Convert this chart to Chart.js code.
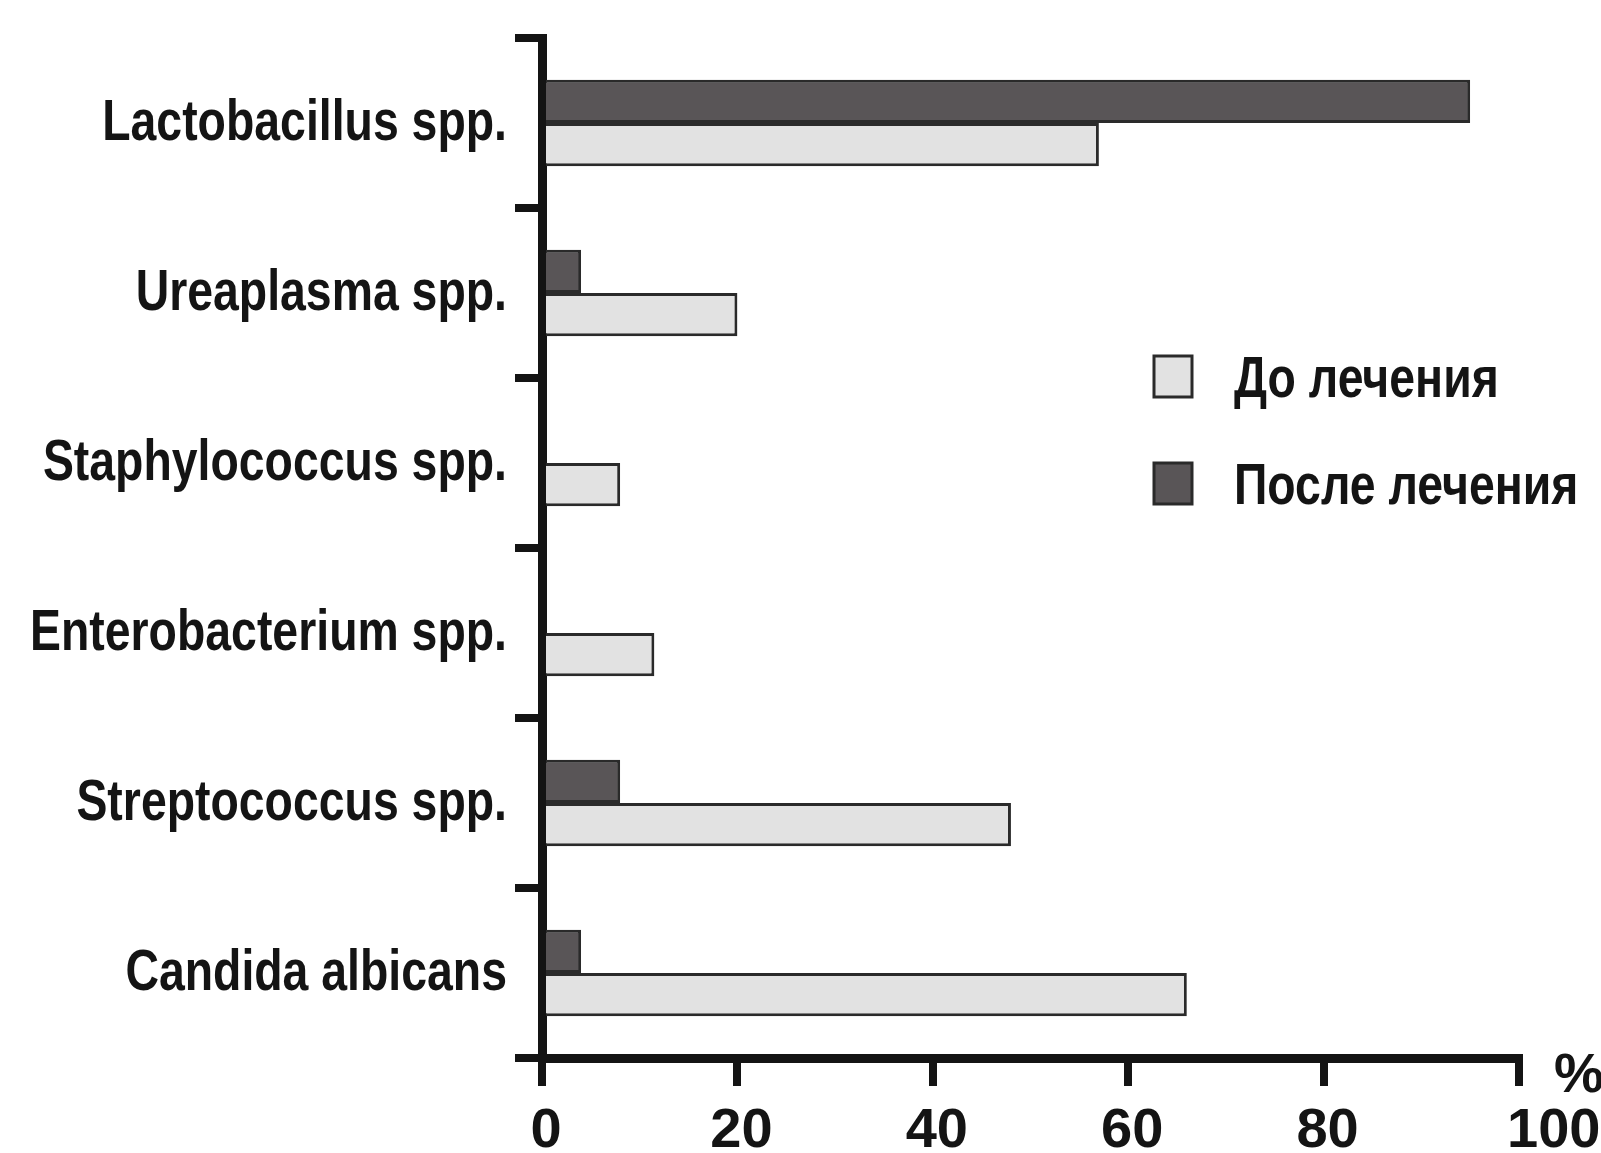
<!DOCTYPE html>
<html>
<head>
<meta charset="utf-8">
<script src="https://cdn.jsdelivr.net/npm/chart.js@4/dist/chart.umd.min.js"></script>
<style>
  html, body { margin: 0; padding: 0; background: #fff; }
  #wrap { width: 1601px; height: 1153px; }
</style>
</head>
<body>
<div id="wrap"><canvas id="microChart" width="1601" height="1153"></canvas></div>
<script>
// Microflora chart

// Categories
const categories = [
  'Lactobacillus spp.',
  'Ureaplasma spp.',
  'Staphylococcus spp.',
  'Enterobacterium spp.',
  'Streptococcus spp.',
  'Candida albicans'
];

// Series values (%)
const afterValues = [95, 4, 0, 0, 8, 4];
const beforeValues = [57, 20, 8, 11.5, 48, 66];

// Tick labels of the x axis
const xTicks = [0, 20, 40, 60, 80, 100];

const fontFamily = "'Liberation Sans', Arial, sans-serif";
const ink = '#141414';
const squeeze = 0.8; // narrow-ish lettering like the original

// draw text squeezed horizontally
function narrowText(c, txt, x, y) {
  c.save();
  c.translate(x, y);
  c.scale(squeeze, 1);
  c.fillText(txt, 0, 0);
  c.restore();
}

// Tick labels, legend and "%" sign drawn on the canvas
const extras = {
  id: 'extras',
  afterDraw(chart) {
    const c = chart.ctx;
    const ys = chart.scales.y;
    const xs = chart.scales.x;
    c.save();
    c.fillStyle = ink;
    c.textBaseline = 'alphabetic';

    // category labels
    c.font = 'bold 58px ' + fontFamily;
    c.textAlign = 'right';
    chart.data.labels.forEach((lab, i) => {
      narrowText(c, lab, ys.right - 35, ys.getPixelForValue(i) + 17);
    });

    // value labels
    c.font = 'bold 56px ' + fontFamily;
    xTicks.forEach((v, i) => {
      const last = i === xTicks.length - 1;
      c.textAlign = last ? 'left' : 'center';
      c.fillText(String(v), xs.getPixelForValue(v) + (last ? -12 : 4), xs.top + 89);
    });

    // unit sign
    c.textAlign = 'center';
    c.fillText('%', xs.right + 60, xs.top + 34);

    // legend
    const sets = [chart.data.datasets[1], chart.data.datasets[0]];
    c.font = 'bold 58px ' + fontFamily;
    c.textAlign = 'left';
    sets.forEach((ds, i) => {
      const y = 356 + i * 107;
      c.fillStyle = ds.backgroundColor;
      c.fillRect(1154, y, 38, 41);
      c.lineWidth = 3;
      c.strokeStyle = '#2a2a2a';
      c.strokeRect(1154, y, 38, 41);
      c.fillStyle = ink;
      narrowText(c, ds.label, 1234, y + 41);
    });
    c.restore();
  }
};

new Chart(document.getElementById('microChart'), {
  type: 'bar',
  data: {
    labels: categories,
    datasets: [{
      label: 'После лечения',
      data: afterValues,
      backgroundColor: '#595557',
      borderColor: '#2a2a2a',
      borderWidth: 3
    }, {
      label: 'До лечения',
      data: beforeValues,
      backgroundColor: '#e2e2e2',
      borderColor: '#2a2a2a',
      borderWidth: 3
    }]
  },
  options: {
    indexAxis: 'y',
    responsive: false,
    animation: false,
    categoryPercentage: 0.51,
    barPercentage: 1,
    plugins: {
      legend: { display: false },
      tooltip: { enabled: false }
    },
    layout: {
      padding: { left: 0, right: 82, top: 38, bottom: 0 }
    },
    scales: {
      x: {
        min: 0,
        max: 100,
        afterBuildTicks(scale) {
          scale.ticks = xTicks.map(v => ({ value: v }));
        },
        afterFit(scale) { scale.height = 95; },
        border: { display: true, color: ink, width: 9 },
        grid: {
          drawOnChartArea: false,
          drawTicks: true,
          tickLength: 28,
          lineWidth: 8,
          color: ink
        },
        ticks: { display: false }
      },
      y: {
        afterFit(scale) { scale.width = 542; },
        border: { display: true, color: ink, width: 9 },
        grid: {
          offset: true,
          drawOnChartArea: false,
          drawTicks: true,
          tickLength: 27,
          lineWidth: 8,
          color: ink
        },
        ticks: { display: false }
      }
    }
  },
  plugins: [extras]
});
</script>
</body>
</html>
